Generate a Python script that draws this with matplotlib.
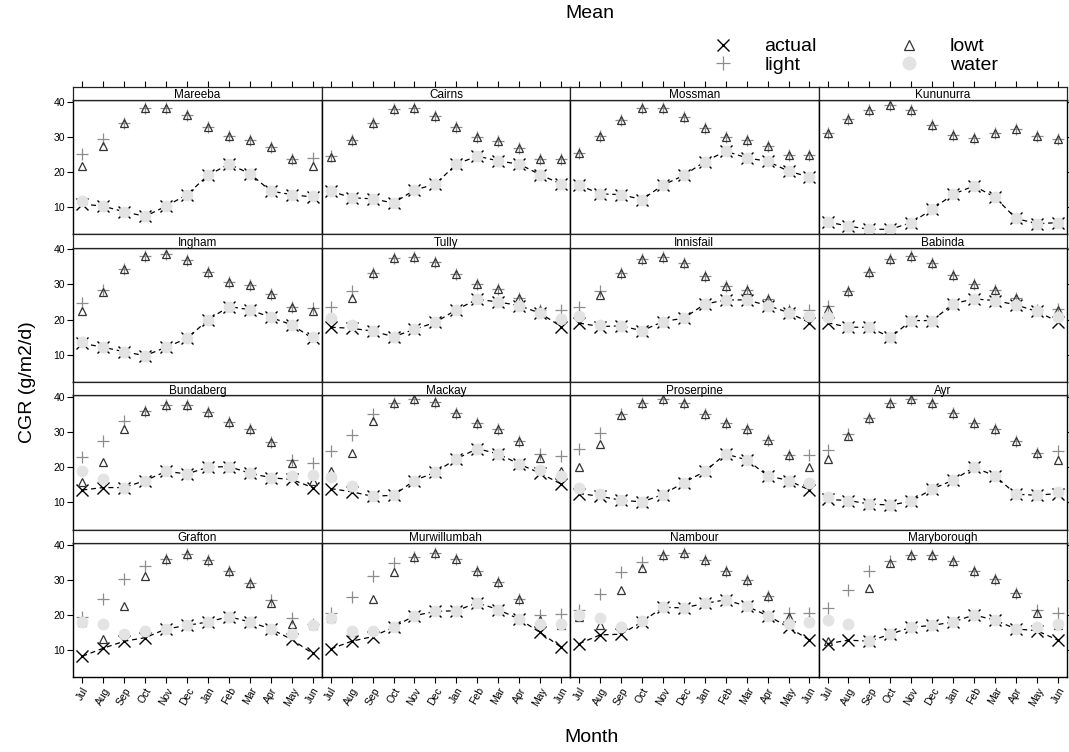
import matplotlib
matplotlib.use("Agg")
import matplotlib.pyplot as plt
from matplotlib.lines import Line2D
import numpy as np

plt.rcParams['font.family'] = ['Liberation Sans', 'DejaVu Sans']

months = ["Jul", "Aug", "Sep", "Oct", "Nov", "Dec", "Jan", "Feb", "Mar", "Apr", "May", "Jun"]

# site order, row by row from the top
sites = ["Mareeba", "Cairns", "Mossman", "Kununurra",
         "Ingham", "Tully", "Innisfail", "Babinda",
         "Bundaberg", "Mackay", "Proserpine", "Ayr",
         "Grafton", "Murwillumbah", "Nambour", "Maryborough"]

# CGR (g/m2/d), one row per site, Jul..Jun
actual = [
    [10.8, 10.2, 8.6, 7.3, 10.2, 13.5, 19.0, 22.2, 19.5, 14.5, 13.5, 12.8],
    [14.5, 12.6, 12.3, 11.1, 14.8, 16.5, 22.2, 24.5, 23.1, 22.2, 19.2, 16.5],
    [16.2, 13.7, 13.5, 12.1, 16.2, 19.0, 22.9, 25.9, 24.0, 23.0, 20.2, 18.5],
    [5.7, 4.5, 3.6, 3.6, 5.5, 9.3, 13.6, 16.0, 12.7, 6.7, 5.2, 5.5],
    [13.2, 12.1, 10.8, 9.7, 12.1, 14.6, 19.9, 23.7, 22.8, 20.6, 18.5, 14.6],
    [17.8, 17.5, 16.7, 15.1, 17.2, 19.2, 22.8, 25.8, 25.0, 24.0, 21.8, 18.0],
    [19.0, 18.0, 18.2, 16.8, 19.4, 20.4, 24.4, 25.6, 25.6, 24.0, 22.0, 19.1],
    [19.1, 17.8, 17.8, 14.9, 19.7, 19.7, 24.5, 25.9, 25.4, 24.2, 22.3, 19.4],
    [13.5, 14.2, 14.2, 16.2, 18.8, 18.1, 20.0, 20.2, 18.3, 17.0, 16.5, 14.2],
    [13.9, 13.0, 11.7, 12.0, 16.2, 18.6, 22.4, 25.3, 23.8, 20.9, 18.3, 15.2],
    [12.5, 11.7, 10.6, 10.1, 12.2, 15.6, 18.8, 23.8, 22.1, 17.6, 16.2, 13.5],
    [10.8, 10.5, 9.5, 9.2, 10.3, 13.8, 16.3, 20.0, 17.5, 12.3, 12.0, 12.5],
    [8.2, 10.5, 12.5, 13.5, 16.0, 17.0, 18.0, 19.5, 18.0, 16.0, 13.0, 9.0],
    [10.3, 12.5, 13.8, 16.5, 19.8, 21.0, 21.2, 23.5, 21.5, 18.8, 15.0, 10.8],
    [11.8, 14.3, 14.5, 18.0, 22.2, 22.0, 23.3, 24.3, 22.5, 19.8, 16.5, 12.8],
    [11.8, 12.8, 12.5, 14.5, 16.5, 17.0, 18.0, 20.0, 18.5, 16.0, 15.5, 12.8],
]
light = [
    [25.0, 29.5, 34.0, 38.3, 38.3, 36.2, 32.9, 30.2, 29.0, 27.1, 23.8, 24.0],
    [24.5, 29.0, 34.0, 37.8, 38.1, 36.0, 32.9, 30.0, 28.8, 26.9, 23.8, 23.6],
    [25.5, 30.2, 34.8, 38.3, 38.3, 35.7, 32.6, 30.0, 29.0, 27.4, 24.8, 24.8],
    [31.0, 35.0, 37.6, 39.2, 37.6, 33.5, 30.5, 29.7, 31.0, 32.2, 30.3, 29.3],
    [24.7, 28.5, 34.3, 38.1, 38.6, 36.9, 33.6, 30.6, 29.8, 27.3, 23.5, 23.3],
    [23.7, 28.2, 33.3, 37.6, 37.9, 36.4, 33.1, 30.0, 28.7, 26.1, 22.6, 22.8],
    [23.7, 28.0, 33.3, 37.3, 37.9, 36.0, 32.5, 29.5, 28.3, 25.8, 22.6, 22.6],
    [23.9, 28.0, 33.6, 37.4, 38.1, 36.0, 32.8, 30.0, 28.5, 26.1, 22.6, 23.0],
    [22.8, 27.4, 33.2, 36.0, 37.8, 37.8, 35.8, 32.9, 31.0, 27.2, 22.1, 21.2],
    [24.5, 29.3, 35.1, 38.3, 39.6, 38.5, 35.4, 32.7, 30.8, 27.6, 23.8, 23.1],
    [25.2, 29.8, 35.1, 38.2, 39.4, 38.2, 35.1, 32.5, 30.8, 27.9, 23.6, 23.6],
    [25.0, 29.5, 34.0, 38.3, 39.4, 38.3, 35.4, 32.5, 30.8, 27.6, 24.2, 24.5],
    [19.5, 24.5, 30.3, 34.1, 36.0, 37.5, 35.6, 32.5, 29.1, 24.3, 19.0, 17.5],
    [20.5, 25.0, 31.2, 34.7, 36.5, 37.8, 36.0, 32.5, 29.3, 24.5, 20.0, 20.2],
    [21.5, 26.0, 32.2, 35.0, 37.1, 37.8, 35.8, 32.5, 29.9, 25.5, 20.5, 20.5],
    [22.0, 27.0, 32.5, 35.5, 37.0, 37.2, 35.5, 32.5, 30.2, 26.2, 21.5, 20.5],
]
lowt = [
    [21.6, 27.3, 34.0, 38.3, 38.3, 36.2, 32.9, 30.2, 29.0, 27.1, 23.8, 21.6],
    [24.3, 29.0, 34.0, 37.8, 38.1, 36.0, 32.9, 30.0, 28.8, 26.9, 23.8, 23.6],
    [25.5, 30.2, 34.8, 38.3, 38.3, 35.7, 32.6, 30.0, 29.0, 27.4, 24.8, 24.8],
    [31.0, 35.0, 37.6, 39.2, 37.6, 33.5, 30.5, 29.7, 31.0, 32.2, 30.3, 29.3],
    [22.3, 27.8, 34.3, 38.1, 38.6, 36.9, 33.6, 30.6, 29.8, 27.3, 23.5, 22.3],
    [20.5, 26.1, 33.3, 37.6, 37.9, 36.4, 33.1, 30.0, 28.7, 26.1, 22.6, 20.5],
    [21.5, 27.1, 33.3, 37.3, 37.9, 36.0, 32.5, 29.5, 28.3, 25.8, 22.6, 21.5],
    [23.0, 28.0, 33.6, 37.4, 38.1, 36.0, 32.8, 30.0, 28.5, 26.1, 22.6, 22.6],
    [15.9, 21.6, 30.8, 36.0, 37.8, 37.8, 35.8, 32.9, 31.0, 27.2, 21.2, 16.0],
    [18.8, 24.0, 33.2, 38.3, 39.6, 38.5, 35.4, 32.7, 30.8, 27.6, 22.6, 19.0],
    [20.0, 26.5, 34.8, 38.2, 39.4, 38.2, 35.1, 32.5, 30.8, 27.9, 23.6, 20.0],
    [22.4, 29.0, 34.0, 38.3, 39.4, 38.3, 35.4, 32.5, 30.8, 27.6, 24.2, 22.1],
    [18.0, 13.0, 22.5, 31.2, 36.0, 37.5, 35.6, 32.5, 29.1, 23.5, 17.5, 17.0],
    [19.0, 15.0, 24.5, 32.2, 36.5, 37.8, 36.0, 32.5, 29.3, 24.5, 18.5, 17.0],
    [19.5, 17.0, 27.2, 33.4, 37.1, 37.8, 35.8, 32.5, 29.9, 25.5, 19.5, 18.5],
    [12.5, 17.8, 27.8, 34.8, 37.0, 37.2, 35.5, 32.5, 30.2, 26.2, 20.5, 17.0],
]
water = [
    [11.8, 10.2, 8.6, 7.3, 10.2, 13.5, 19.0, 22.2, 19.5, 14.5, 13.5, 13.2],
    [14.5, 12.6, 12.3, 11.1, 14.8, 16.5, 22.2, 24.5, 23.1, 22.2, 19.2, 16.5],
    [16.2, 13.7, 13.5, 12.1, 16.2, 19.0, 22.9, 25.9, 24.0, 23.0, 20.2, 18.5],
    [5.7, 4.5, 3.6, 3.6, 5.5, 9.3, 13.6, 16.0, 12.7, 6.7, 5.2, 5.5],
    [13.7, 12.1, 10.8, 9.7, 12.1, 14.6, 19.9, 23.7, 22.8, 20.6, 18.5, 14.9],
    [20.4, 18.3, 16.7, 15.1, 17.2, 19.2, 22.8, 25.8, 25.0, 24.0, 21.8, 20.1],
    [20.9, 18.5, 18.2, 16.8, 19.4, 20.4, 24.4, 25.6, 25.6, 24.0, 22.0, 20.9],
    [20.7, 17.8, 17.8, 14.9, 19.7, 19.7, 24.5, 25.9, 25.4, 24.2, 22.3, 20.7],
    [18.8, 16.6, 14.2, 16.2, 18.8, 18.1, 20.0, 20.2, 18.3, 17.0, 17.6, 17.8],
    [17.3, 14.6, 11.7, 12.0, 16.2, 18.6, 22.4, 25.3, 23.8, 20.9, 19.2, 17.6],
    [14.2, 12.5, 10.6, 10.1, 12.2, 15.6, 18.8, 23.8, 22.1, 17.6, 16.2, 15.4],
    [11.5, 10.5, 9.5, 9.2, 10.3, 13.8, 16.3, 20.0, 17.5, 12.3, 12.0, 12.8],
    [18.0, 17.5, 14.5, 15.5, 16.0, 17.0, 18.0, 19.5, 18.0, 16.0, 14.5, 17.0],
    [19.0, 15.5, 15.5, 16.5, 19.8, 21.0, 21.2, 23.5, 21.5, 18.8, 17.5, 17.5],
    [20.0, 19.2, 16.5, 18.2, 22.2, 22.0, 23.3, 24.3, 22.5, 19.8, 17.5, 18.0],
    [18.5, 17.5, 12.5, 14.5, 16.5, 17.0, 18.0, 20.0, 18.5, 16.0, 16.5, 17.5],
]

# panel grid in pixels (lattice style, panels touching)
W, H = 1069, 752
left0, pw = 73.3, 248.4
top0, pitch, strip_h = 86.5, 147.7, 13.5
nrow, ncol = 4, 4

c_light = '#8c8c8c'
c_lowt = '#333333'
c_water = '#e3e3e3'

fig = plt.figure(figsize=(W / 100, H / 100), dpi=100)
x = np.arange(1, 13)

for i, site in enumerate(sites):
    r, c = divmod(i, ncol)
    st = top0 + r * pitch
    ptop = st + strip_h
    pbot = st + pitch
    xl = left0 + c * pw
    ax = fig.add_axes([xl / W, 1 - pbot / H, pw / W, (pbot - ptop) / H])
    sax = fig.add_axes([xl / W, 1 - ptop / H, pw / W, strip_h / H])

    ax.plot(x, actual[i], color='black', ls=(0, (4, 3)), lw=0.9, marker='x',
            ms=8.5, mew=1.0, zorder=2)
    ax.plot(x, light[i], ls='none', marker='+', color=c_light, ms=8, mew=0.9, zorder=3)
    ax.plot(x, lowt[i], ls='none', marker='^', mfc='none', mec=c_lowt, ms=6.2, mew=0.9, zorder=4)
    ax.plot(x, water[i], ls='none', marker='o', mfc=c_water, mec=c_water, ms=7.5, zorder=5)

    ax.set_xlim(0.57, 12.43)
    ax.set_ylim(2.2, 40.5)
    ax.set_xticks(x)
    ax.set_yticks([10, 20, 30, 40])
    for sp in ax.spines.values():
        sp.set_linewidth(1.0)
    ax.tick_params(direction='out', length=4, width=0.8, labelsize=7.5, pad=2,
                   left=(c == 0), right=(c == ncol - 1),
                   labelleft=(c == 0), labelright=False,
                   top=False, bottom=(r == nrow - 1),
                   labeltop=False, labelbottom=(r == nrow - 1))
    if r == nrow - 1:
        ax.set_xticklabels(months, rotation=60, ha='center', va='top')

    sax.set_xticks([])
    sax.set_yticks([])
    for sp in sax.spines.values():
        sp.set_linewidth(0.9)
        sp.set_color('#222222')
    sax.text(0.5, 0.35, site, ha='center', va='center', fontsize=8.5,
             transform=sax.transAxes)
    if r == 0:
        # top ticks sit above the strip
        sax.set_xlim(ax.get_xlim())
        sax.set_xticks(x)
        sax.tick_params(axis='x', direction='out', length=4, width=0.8,
                        top=True, bottom=False, labeltop=False, labelbottom=False)

fig.text(28 / W, 1 - 382 / H, "CGR (g/m2/d)", rotation=90, ha='center', va='center', fontsize=14)
fig.text(592 / W, 1 - 738 / H, "Month", ha='center', va='center', fontsize=14)
fig.text(590 / W, 1 - 13 / H, "Mean", ha='center', va='center', fontsize=14)

handles = [
    Line2D([], [], ls='none', marker='x', color='black', ms=9, mew=1.0),
    Line2D([], [], ls='none', marker='+', color=c_light, ms=10, mew=0.9),
    Line2D([], [], ls='none', marker='^', mfc='none', mec=c_lowt, ms=7, mew=0.9),
    Line2D([], [], ls='none', marker='o', mfc=c_water, mec=c_water, ms=9),
]
fig.legend(handles, ["actual", "light", "lowt", "water"], ncol=2, frameon=False,
           loc='upper left', bbox_to_anchor=(704 / W, 1 - 28 / H), fontsize=14,
           borderpad=0, handlelength=1.0, handletextpad=1.6, columnspacing=4.25,
           labelspacing=0.05)

fig.savefig("out.png", dpi=100)
